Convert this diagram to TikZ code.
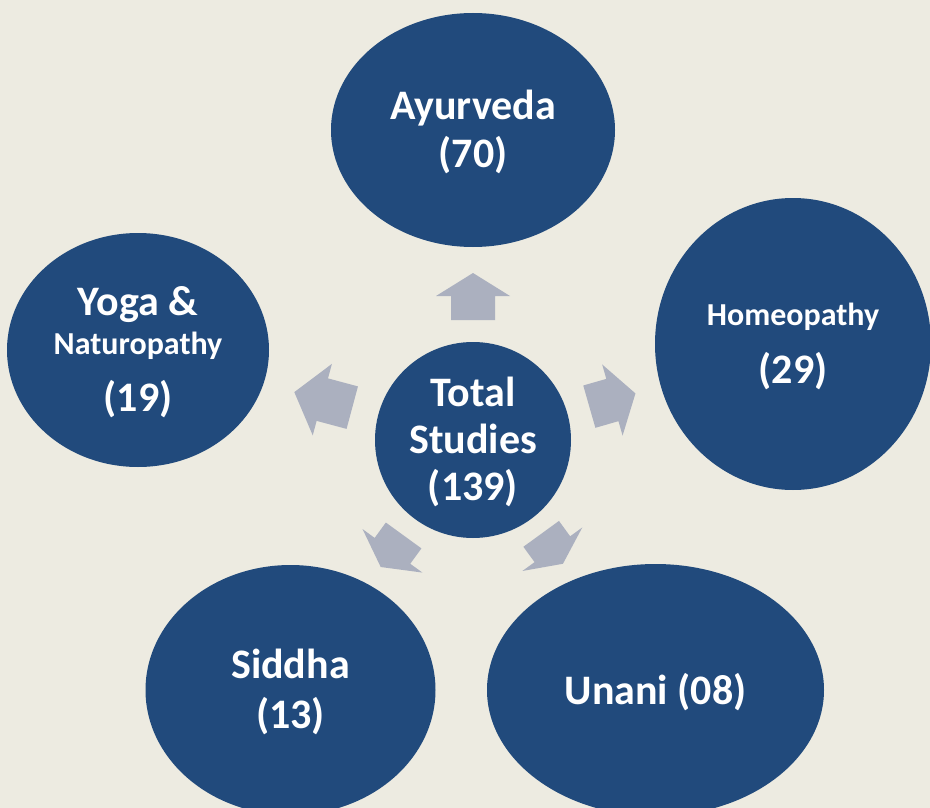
\documentclass[tikz,border=0pt]{standalone}
\usepackage{fontspec}
\setmainfont{Carlito}
\usetikzlibrary{shapes.geometric,calc}
\definecolor{bgc}{RGB}{237,235,225}
\definecolor{bubble}{RGB}{33,74,124}
\definecolor{arrowc}{RGB}{171,176,191}
\newcommand{\fs}[2]{\fontsize{#1}{#2}\selectfont}
\tikzset{
  bubble/.style={ellipse, fill=bubble, draw=none, inner sep=0pt, text=white, align=center, text depth=2pt, font=\bfseries\fs{42}{48}},
  blockarrow/.style={fill=arrowc, draw=none},
}
% #1 angle, #2 r start, #3 r head base, #4 r tip
\newcommand{\barrow}[4]{%
  \begin{scope}[shift={(c.center)}, rotate=#1]
    \fill[blockarrow] (#2pt,-22pt) -- (#3pt,-22pt) -- (#3pt,-37pt) -- (#4pt,0pt) -- (#3pt,37pt) -- (#3pt,22pt) -- (#2pt,22pt) -- cycle;
  \end{scope}}
\begin{document}
\begin{tikzpicture}[x=1pt,y=1pt]
  \fill[bgc] (0,0) rectangle (930,-808);
  \useasboundingbox (0,0) rectangle (930,-808);
  \clip (0,0) rectangle (930,-808);
  \node[bubble, minimum width=196pt, minimum height=196pt, font=\bfseries\fs{42}{47}] (c) at (473,-440) {Total\\Studies\\(139)};
  \node[bubble, minimum width=284pt, minimum height=234pt] (ayur) at (473,-130) {Ayurveda\\(70)};
  \node[bubble, minimum width=276pt, minimum height=292pt] (homeo) at (793,-344) {{\fs{32}{48}Homeopathy}\\[10pt](29)};
  \node[bubble, minimum width=262pt, minimum height=234pt] (yoga) at (138,-350) {Yoga \&\\[-9pt]{\fs{32}{48}Naturopathy}\\[9pt](19)};
  \node[bubble, minimum width=290pt, minimum height=250pt, font=\bfseries\fs{42}{50}] (siddha) at (290.5,-690) {Siddha\\(13)};
  \node[bubble, minimum width=337pt, minimum height=252pt] (unani) at (655.5,-690) {Unani (08)};
  \barrow{90}{120}{144}{167}
  \barrow{16}{121}{145}{169}
  \barrow{-54}{116}{135}{153}
  \barrow{-126}{118}{137}{157}
  \barrow{165}{125}{156}{185}
\end{tikzpicture}
\end{document}
